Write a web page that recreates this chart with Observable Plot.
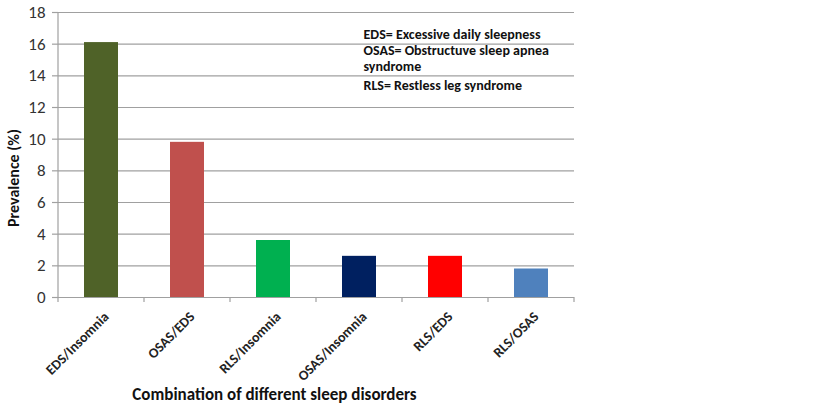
<!DOCTYPE html>
<html>
<head>
<meta charset="utf-8">
<script src="https://cdn.jsdelivr.net/npm/d3@7"></script>
<script src="https://cdn.jsdelivr.net/npm/@observablehq/plot@0.6"></script>
<style>
  html, body { margin: 0; padding: 0; background: #fff; }
  svg { display: block; }
</style>
</head>
<body>
<div id="chart"></div>
<script>
const categories = ["EDS/Insomnia", "OSAS/EDS", "RLS/Insomnia", "OSAS/Insomnia", "RLS/EDS", "RLS/OSAS"];
const prevalence = [16.1, 9.8, 3.6, 2.6, 2.6, 1.8];
const barColors = ["#4f6228", "#c0504d", "#00b050", "#002060", "#ff0000", "#4f81bd"];
const yTicks = [0, 2, 4, 6, 8, 10, 12, 14, 16, 18];
const legendLines = [
  "EDS= Excessive daily sleepness",
  "OSAS= Obstructuve sleep apnea",
  "syndrome",
  "RLS= Restless leg syndrome"
];
const yTitle = "Prevalence (%)";
const xTitle = "Combination of different sleep disorders";

const data = categories.map((c, i) => ({ cat: c, value: prevalence[i], color: barColors[i] }));
const W = 840, H = 404;
const gridColor = "#a0a0a0";
const font = "Carlito, Lato, sans-serif";
const svgNS = "http://www.w3.org/2000/svg";

// category-boundary tick marks on the x axis plus the left axis line
function boundaryTicks(index, scales, values, dims, context) {
  const x = scales.x, y = scales.y;
  const n = categories.length;
  const step = x.step();
  const bw = x.bandwidth();
  const gap = (step - bw) / 2;
  const xs = categories.map(c => x(c) - gap).concat([x(categories[n - 1]) + bw + gap]);
  const y0 = y(0), yTop = y(yTicks[yTicks.length - 1]);
  const g = d3.select(context.document.createElementNS(svgNS, "g"));
  g.attr("stroke", gridColor).attr("stroke-width", 1.2);
  g.append("line").attr("x1", xs[0]).attr("x2", xs[0]).attr("y1", yTop).attr("y2", y0);
  xs.forEach(v => g.append("line").attr("x1", v).attr("x2", v).attr("y1", y0).attr("y2", y0 + 5));
  return g.node();
}

const legendDy = [0, 16, 32, 51];

const plot = Plot.plot({
  width: W,
  height: H,
  marginLeft: 58,
  marginRight: 266,
  marginTop: 12,
  marginBottom: 107,
  style: { fontFamily: font, background: "#fff", overflow: "visible" },
  x: { domain: categories, paddingInner: 0.6, paddingOuter: 0.3, align: 0.5 },
  y: { domain: [0, 18] },
  marks: [
    Plot.gridY(yTicks, { stroke: gridColor, strokeOpacity: 1, strokeWidth: 1.2 }),
    Plot.ruleY([0], { stroke: gridColor, strokeWidth: 1.2 }),
    Plot.axisY(yTicks, {
      tickSize: 6, tickPadding: 7, stroke: gridColor, strokeWidth: 1.2,
      fontSize: 17, fill: "#333", label: null, tickFormat: d => String(d)
    }),
    Plot.barY(data, { x: "cat", y: "value", fill: "color" }),
    boundaryTicks,
    Plot.axisX({
      tickSize: 0, label: null, textAnchor: "end", rotate: -45,
      fontSize: 14, fontWeight: "bold", fill: "#222", dy: 4, dx: 1
    }),
    Plot.text([yTitle], {
      frameAnchor: "left", textAnchor: "middle", rotate: -90, dx: -45, dy: 23, text: d => d,
      fontSize: 16, fontWeight: "bold", fill: "#111"
    }),
    Plot.text([xTitle], {
      frameAnchor: "bottom", dx: -42, dy: 102, text: d => d,
      fontSize: 17, fontWeight: "bold", fill: "#111"
    }),
    ...legendLines.map((line, i) => Plot.text([line], {
      frameAnchor: "top-left", textAnchor: "start", dx: 305, dy: 17 + legendDy[i], text: d => d,
      fontSize: 14, fontWeight: "bold", fill: "#111"
    }))
  ]
});
document.getElementById("chart").appendChild(plot);
</script>
</body>
</html>
